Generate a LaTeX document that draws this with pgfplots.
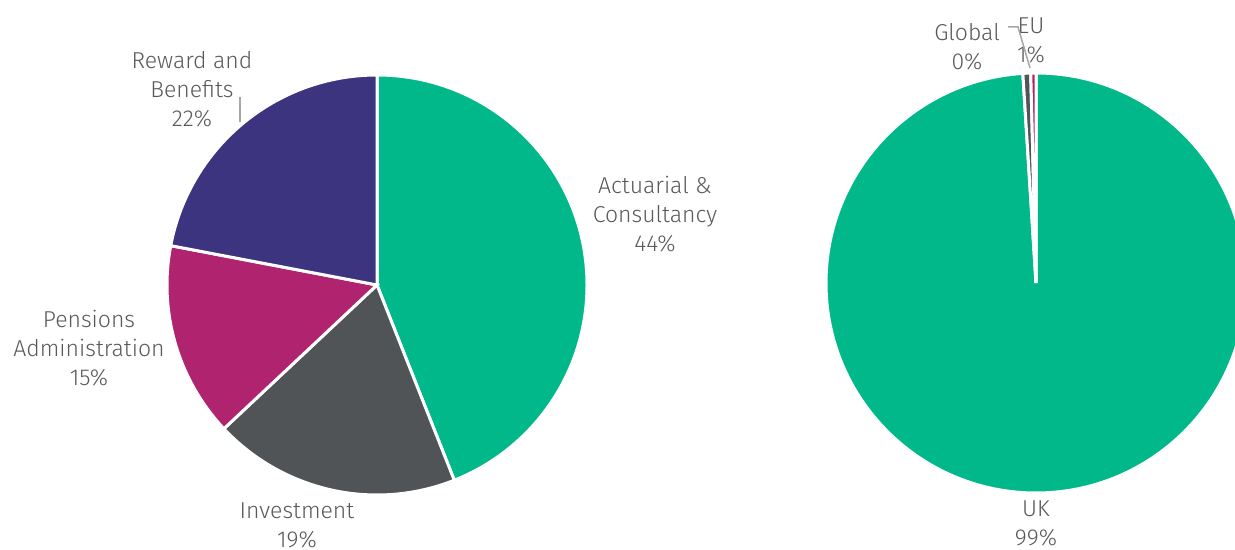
\documentclass[border=0pt]{standalone}
\usepackage{pgfplots}
\pgfplotsset{compat=1.18}
\usepackage{pgfplotstable}
\usepackage{fontspec}
\setmainfont{Fira Sans}[UprightFont=* Light]

\definecolor{cGreen}{HTML}{00B88A}
\definecolor{cGray}{HTML}{505456}
\definecolor{cMagenta}{HTML}{B0236F}
\definecolor{cPurple}{HTML}{3D3480}
\definecolor{cText}{HTML}{595959}
\definecolor{cLine}{HTML}{A6A6A6}

% shares in percent, clockwise from 12 o'clock
\pgfplotstableread{
pct color
44 cGreen
19 cGray
15 cMagenta
22 cPurple
}\servicedata

\pgfplotstableread{
pct color
99.0 cGreen
0.6 cGray
0.4 cMagenta
}\regiondata

% cumulative start/end angles -> \<prefix>s<i>, \<prefix>e<i>, colour \<prefix>c<i>
\newcommand\pieangles[2]{%
  \pgfplotstablegetrowsof{#1}%
  \pgfmathtruncatemacro\pierows{\pgfplotsretval-1}%
  \gdef\piecum{0}%
  \foreach \i in {0,...,\pierows}{%
    \pgfplotstablegetelem{\i}{pct}\of{#1}%
    \let\pieval\pgfplotsretval
    \pgfmathsetmacro\pieA{90-3.6*\piecum}%
    \pgfmathsetmacro\pieC{\piecum+\pieval}%
    \pgfmathsetmacro\pieB{90-3.6*\pieC}%
    \expandafter\xdef\csname #2s\i\endcsname{\pieA}%
    \expandafter\xdef\csname #2e\i\endcsname{\pieB}%
    \pgfplotstablegetelem{\i}{color}\of{#1}%
    \expandafter\xdef\csname #2c\i\endcsname{\pgfplotsretval}%
    \xdef\piecum{\pieC}%
  }%
}

\pgfplotsset{pie axis/.style={
    hide axis, x=1pt, y=1pt,
    xmin=-105, xmax=105, ymin=-105, ymax=105,
    anchor=center, clip=false}}
\tikzset{lbl/.style={align=center, text=cText, font=\fontsize{11.5}{14.5}\selectfont}}

\begin{document}
\begin{tikzpicture}
\useasboundingbox (0,0) rectangle (617.5pt,275pt);
\pieangles{\servicedata}{L}
\pieangles{\regiondata}{R}

% left pie: service lines
\begin{axis}[pie axis, at={(188.5pt,132.5pt)}]
\pgfplotsinvokeforeach{0,...,3}{
  \fill[fill=\csname Lc#1\endcsname, draw=white, line width=1.5pt]
    (axis cs:0,0) -- ++(\csname Ls#1\endcsname:105pt)
    arc[start angle=\csname Ls#1\endcsname, end angle=\csname Le#1\endcsname, radius=105pt] -- cycle;
}
\node[lbl] at (axis cs:139,35.5) {Actuarial \&\\Consultancy\\44\%};
\node[lbl] at (axis cs:-40,-120.25) {Investment\\19\%};
\node[lbl] at (axis cs:-144,-31.5) {Pensions\\Administration\\15\%};
\node[lbl] at (axis cs:-92.5,98) {Reward and\\Benefits\\22\%};
\draw[cLine, line width=0.75pt] (axis cs:-68.5,94) -- (axis cs:-68.5,81.5);
\end{axis}

% right pie: regions
\begin{axis}[pie axis, at={(518pt,133.5pt)}]
\pgfplotsinvokeforeach{0,...,2}{
  \fill[fill=\csname Rc#1\endcsname, draw=white, line width=1.5pt]
    (axis cs:0,0) -- ++(\csname Rs#1\endcsname:105pt)
    arc[start angle=\csname Rs#1\endcsname, end angle=\csname Re#1\endcsname, radius=105pt] -- cycle;
}
\node[lbl] at (axis cs:0,-120.25) {UK\\99\%};
\node[lbl] at (axis cs:-34.5,118.25) {Global\\0\%};
\node[lbl] at (axis cs:-2.5,121.25) {EU\\1\%};
\draw[cLine, line width=0.75pt] (axis cs:-14,128) -- (axis cs:-9,128) -- (axis cs:-3,107.5);
\end{axis}
\end{tikzpicture}
\end{document}
